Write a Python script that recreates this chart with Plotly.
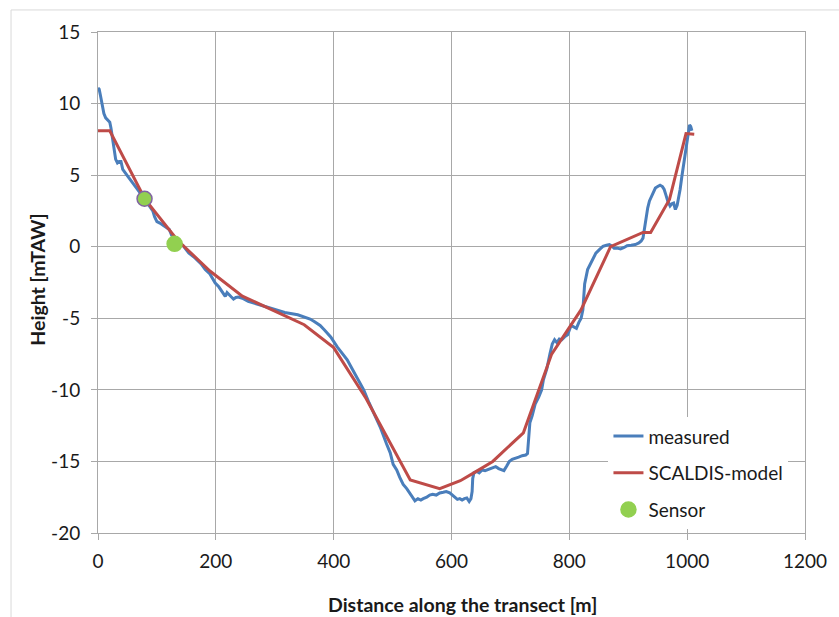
import plotly.graph_objects as go

# Measured bed profile along the transect
measured_x = [0, 2, 4, 6, 8, 10, 13, 16, 20, 22, 24, 26, 28, 30, 33, 36, 39, 42, 50, 59,
              70, 79, 88, 93, 96, 100, 105, 112, 121, 125, 135, 145, 154, 165, 175, 182, 190, 199, 205, 210,
              216, 219, 222, 226, 230, 234, 238, 245, 255, 270, 283, 300, 317, 339, 350, 360, 367, 377, 384, 395,
              406, 412, 423, 435, 445, 451, 460, 473, 479, 490, 496, 501, 507, 512, 518, 524, 529, 535, 538, 543,
              548, 552, 558, 563, 568, 574, 580, 586, 591, 597, 602, 606, 610, 614, 618, 622, 626, 630, 633, 635,
              636, 638, 643, 647, 652, 657, 663, 669, 675, 680, 685, 689, 694, 698, 703, 708, 714, 720, 726, 729,
              731, 733, 737, 742, 748, 753, 756, 762, 767, 771, 775, 779, 783, 787, 792, 797, 803, 807, 812, 816,
              820, 823, 825, 826, 831, 837, 841, 845, 851, 857, 863, 868, 872, 876, 881, 887, 893, 898, 905, 912,
              918, 922, 925, 927, 929, 931, 933, 936, 940, 946, 950, 954, 958, 961, 964, 967, 971, 974, 977, 980,
              983, 985, 988, 991, 994, 997, 1000, 1002, 1004, 1006, 1008]
measured_y = [11.1, 11.0, 10.6, 10.2, 9.6, 9.3, 9.0, 8.9, 8.7, 8.3, 7.7, 7.0, 6.5, 6.1, 5.85, 5.95, 5.95, 5.4, 4.95, 4.45,
              3.9, 3.35, 2.8, 2.5, 2.1, 1.75, 1.65, 1.45, 1.2, 0.8, 0.4, 0.05, -0.44, -0.8, -1.2, -1.6, -1.9, -2.54, -2.8, -3.1,
              -3.47, -3.2, -3.3, -3.5, -3.66, -3.55, -3.52, -3.6, -3.82, -4.0, -4.17, -4.4, -4.59, -4.75, -4.9, -5.05, -5.22, -5.5, -5.8, -6.3,
              -7.0, -7.3, -7.9, -8.8, -9.5, -10.0, -10.9, -12.1, -12.6, -13.8, -14.4, -15.2, -15.6, -16.1, -16.6, -16.9, -17.2, -17.6, -17.75, -17.6,
              -17.7, -17.6, -17.5, -17.35, -17.3, -17.35, -17.2, -17.15, -17.1, -17.2, -17.35, -17.5, -17.65, -17.6, -17.7, -17.6, -17.55, -17.8, -17.6, -17.1,
              -16.2, -15.8, -15.7, -15.8, -15.6, -15.65, -15.55, -15.5, -15.36, -15.5, -15.6, -15.64, -15.3, -15.0, -14.85, -14.8, -14.7, -14.6, -14.55, -14.45,
              -13.5, -12.3, -11.8, -11.0, -10.5, -10.0, -9.3, -8.5, -7.5, -6.8, -6.5, -6.7, -6.45, -6.5, -6.3, -6.15, -5.5, -5.6, -5.7, -5.3,
              -5.0, -4.4, -3.5, -2.6, -1.6, -1.15, -0.8, -0.45, -0.2, 0.02, 0.1, 0.15, 0.05, -0.1, -0.1, -0.15, -0.05, 0.07, 0.1, 0.15,
              0.26, 0.4, 0.6, 1.2, 1.6, 2.2, 2.7, 3.2, 3.6, 4.1, 4.2, 4.3, 4.2, 4.0, 3.6, 3.2, 2.85, 3.0, 3.05, 2.6,
              2.9, 3.3, 4.0, 4.9, 5.8, 6.6, 7.5, 8.2, 8.5, 8.4, 8.1]

# SCALDIS model bathymetry (piecewise linear)
model_x = [0, 20, 80, 135, 190, 245, 350, 400, 455, 530, 580, 615, 640, 670, 722, 770, 820, 870, 925, 938, 970, 998, 1012]
model_y = [8.1, 8.1, 3.3, 0.45, -1.7, -3.45, -5.45, -7.05, -10.6, -16.3, -16.9, -16.35, -15.75, -15.0, -13.0, -7.5, -4.4, 0.0, 1.0, 1.0, 3.3, 7.9, 7.85]

# Sensor locations (the upper one is highlighted with an outline)
sensor_x = [130, 79]
sensor_y = [0.2, 3.35]
sensor_outline = ["#92d050", "#8064a2"]

x_ticks = [0, 200, 400, 600, 800, 1000, 1200]
y_ticks = [-20, -15, -10, -5, 0, 5, 10, 15]
y_tick_text = [str(v) for v in y_ticks]  # plain hyphen for negatives

BLUE = "#4a7ebb"
RED = "#be4b48"
GREEN = "#92d050"
GRID = "#a8a8a8"
FONT = "Lato"
TXT = "#1a1a1a"

fig = go.Figure()
fig.add_trace(go.Scatter(x=measured_x, y=measured_y, mode="lines", name="measured",
                         line=dict(color=BLUE, width=3), legendgroup="a"))
fig.add_trace(go.Scatter(x=model_x, y=model_y, mode="lines", name="SCALDIS-model",
                         line=dict(color=RED, width=3), legendgroup="b"))
fig.add_trace(go.Scatter(x=sensor_x, y=sensor_y, mode="markers", name="Sensor",
                         marker=dict(color=GREEN, size=15,
                                     line=dict(color=sensor_outline, width=1.5)),
                         legendgroup="c"))

axis_common = dict(showgrid=True, gridcolor=GRID, gridwidth=1, zeroline=False,
                   showline=True, linecolor=GRID, linewidth=1, mirror=True,
                   ticks="outside", ticklen=6, tickcolor=GRID,
                   tickfont=dict(family=FONT, size=19, color=TXT))

fig.update_xaxes(range=[0, 1200], tickvals=x_ticks, ticklabelstandoff=5, **axis_common)
fig.update_yaxes(range=[-20, 15], tickvals=y_ticks, ticktext=y_tick_text,
                 ticklabelstandoff=7, **axis_common)

fig.update_layout(
    width=839, height=617,
    margin=dict(l=98, r=26, t=32, b=84),
    paper_bgcolor="white", plot_bgcolor="white",
    font=dict(family=FONT, color=TXT),
    showlegend=True,
    legend=dict(x=0.722, y=0.231, xanchor="left", yanchor="top",
                bgcolor="white", borderwidth=0,
                traceorder="grouped", tracegroupgap=9,
                font=dict(family=FONT, size=19, color=TXT)),
    annotations=[
        dict(text="<b>Distance along the transect [m]</b>", xref="paper", yref="paper",
             x=0.516, y=-0.142, xanchor="center", yanchor="middle", showarrow=False,
             font=dict(family=FONT, size=19.5, color=TXT)),
        dict(text="<b>Height [mTAW]</b>", xref="paper", yref="paper",
             x=-0.0853, y=0.505, xanchor="center", yanchor="middle", showarrow=False,
             textangle=-90, font=dict(family=FONT, size=19.5, color=TXT)),
    ],
    shapes=[
        dict(type="line", xref="paper", yref="paper", x0=-0.123, x1=1.1, y0=1.044, y1=1.044,
             line=dict(color="#d9d9d9", width=1)),
        dict(type="line", xref="paper", yref="paper", x0=-0.123, x1=-0.123, y0=1.044, y1=-0.2,
             line=dict(color="#d9d9d9", width=1)),
    ],
)

fig.write_html("out.html")
